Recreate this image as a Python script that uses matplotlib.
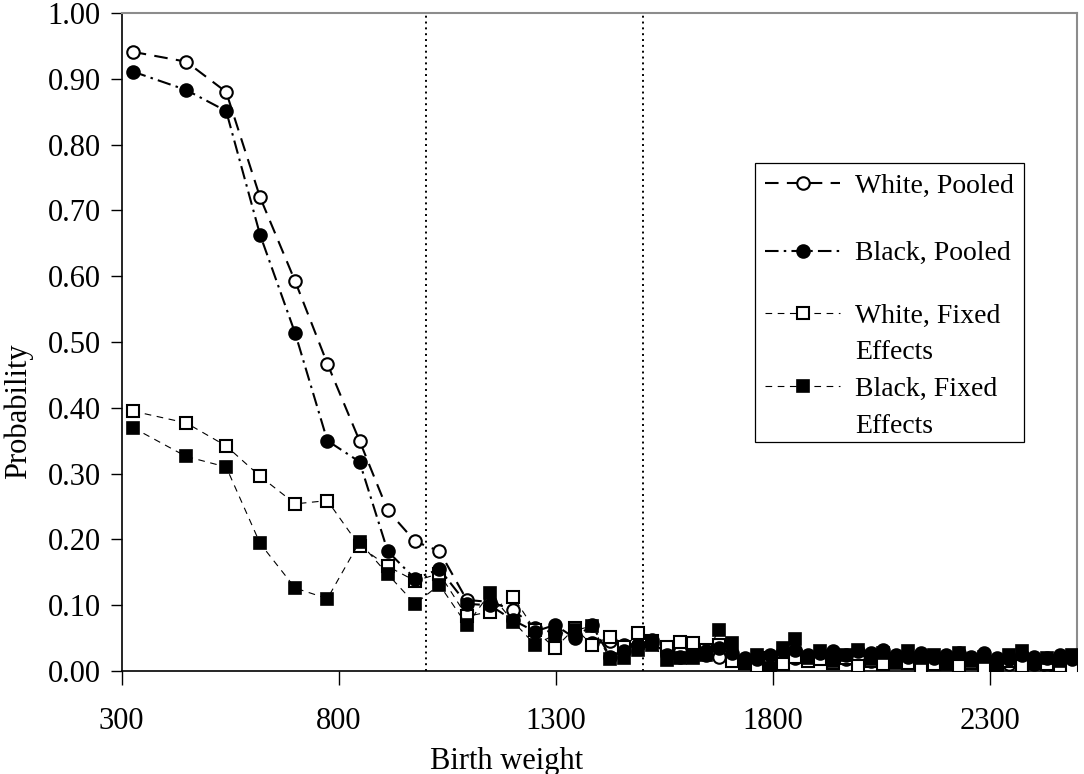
import matplotlib
matplotlib.use('Agg')
import matplotlib.pyplot as plt
from matplotlib.lines import Line2D
from matplotlib.patches import Rectangle

plt.rcParams['font.family'] = ['Liberation Serif', 'DejaVu Serif']

# birth weight (grams) at each point
birth_weight = [326, 449, 541, 619, 700, 774, 848, 913, 976, 1032,
                1095, 1148, 1202, 1252, 1298, 1344, 1383, 1425, 1457, 1490,
                1521, 1556, 1587, 1617, 1646, 1675, 1705, 1735, 1764, 1793,
                1822, 1851, 1880, 1909, 1938, 1967, 1996, 2025, 2054, 2083,
                2112, 2141, 2170, 2199, 2228, 2257, 2286, 2315, 2344, 2373,
                2402, 2431, 2460, 2489]

white_pooled = [0.941, 0.926, 0.880, 0.720, 0.592, 0.467, 0.350, 0.244, 0.197, 0.182,
                0.108, 0.105, 0.093, 0.065, 0.058, 0.055, 0.042, 0.045, 0.040, 0.040,
                0.042, 0.028, 0.030, 0.028, 0.025, 0.022, 0.020, 0.018, 0.015, 0.022,
                0.025, 0.020, 0.018, 0.022, 0.020, 0.018, 0.020, 0.015, 0.018, 0.016,
                0.014, 0.015, 0.012, 0.014, 0.012, 0.013, 0.015, 0.012, 0.010, 0.012,
                0.010, 0.008, 0.007, 0.006]

black_pooled = [0.911, 0.883, 0.851, 0.663, 0.513, 0.350, 0.318, 0.182, 0.140, 0.155,
                0.102, 0.100, 0.077, 0.060, 0.070, 0.050, 0.070, 0.022, 0.030, 0.040,
                0.047, 0.025, 0.022, 0.025, 0.030, 0.035, 0.028, 0.020, 0.018, 0.025,
                0.030, 0.032, 0.025, 0.028, 0.030, 0.025, 0.030, 0.028, 0.032, 0.025,
                0.022, 0.028, 0.020, 0.025, 0.028, 0.022, 0.027, 0.020, 0.018, 0.025,
                0.022, 0.020, 0.024, 0.018]

white_fixed = [0.395, 0.377, 0.342, 0.296, 0.254, 0.259, 0.190, 0.159, 0.137, 0.148,
               0.083, 0.090, 0.113, 0.062, 0.035, 0.065, 0.040, 0.052, 0.036, 0.057,
               0.045, 0.036, 0.044, 0.042, 0.032, 0.040, 0.015, 0.012, 0.008, 0.020,
               0.010, 0.022, 0.015, 0.018, 0.012, 0.020, 0.008, 0.015, 0.010, 0.018,
               0.012, 0.005, 0.010, 0.015, 0.008, 0.012, 0.005, 0.010, 0.015, 0.008,
               0.012, 0.010, 0.008, 0.005]

black_fixed = [0.370, 0.326, 0.310, 0.194, 0.126, 0.110, 0.196, 0.147, 0.102, 0.131,
               0.070, 0.118, 0.075, 0.040, 0.055, 0.062, 0.068, 0.018, 0.019, 0.032,
               0.040, 0.017, 0.020, 0.020, 0.025, 0.062, 0.043, 0.012, 0.025, 0.005,
               0.035, 0.048, 0.020, 0.030, 0.015, 0.025, 0.032, 0.018, 0.028, 0.012,
               0.030, 0.020, 0.025, 0.010, 0.028, 0.015, 0.022, 0.008, 0.025, 0.030,
               0.012, 0.020, 0.015, 0.025]

x_ticks = [300, 800, 1300, 1800, 2300]
y_ticks = [0.0, 0.1, 0.2, 0.3, 0.4, 0.5, 0.6, 0.7, 0.8, 0.9, 1.0]
cutoffs = [1000, 1500]

W, H = 1084, 774
fig = plt.figure(figsize=(W / 100, H / 100), dpi=100)
ax = fig.add_axes([121.5 / W, (H - 671) / H, (1077 - 121.5) / W, (671 - 13) / H])

for c in cutoffs:
    ax.axvline(c, color='black', lw=1.4, linestyle=(0, (1, 2)), zorder=1)

h_wp, = ax.plot(birth_weight, white_pooled, color='black', lw=1.5,
                linestyle=(0, (6.5, 4)), marker='o', ms=9, mfc='white',
                mec='black', mew=1.5, zorder=2)
h_wf, = ax.plot(birth_weight, white_fixed, color='black', lw=0.8,
                linestyle=(0, (6, 5)), marker='s', ms=9, mfc='white',
                mec='black', mew=1.5, zorder=3)
h_bp, = ax.plot(birth_weight, black_pooled, color='black', lw=1.5,
                linestyle=(0, (6.5, 2.5, 1.2, 2.5)), marker='o', ms=9,
                mfc='black', mec='black', mew=1.5, zorder=4)
h_bf, = ax.plot(birth_weight, black_fixed, color='black', lw=0.8,
                linestyle=(0, (6, 5)), marker='s', ms=9, mfc='black',
                mec='black', mew=1.2, zorder=5)

ax.set_xlim(300, 2500)
ax.set_ylim(0, 1.0)
ax.set_xticks(x_ticks)
ax.set_xticklabels([str(v) for v in x_ticks])
ax.set_yticks(y_ticks)
ax.set_yticklabels(['%.2f' % v for v in y_ticks])
ax.tick_params(axis='y', direction='out', length=8, width=1, labelsize=22, pad=7)
ax.tick_params(axis='x', direction='out', length=10, width=1, labelsize=22, pad=16)

for side in ['top', 'right']:
    ax.spines[side].set_color('#8c8c8c')
    ax.spines[side].set_linewidth(1.5)
for side in ['left', 'bottom']:
    ax.spines[side].set_color('black')
    ax.spines[side].set_linewidth(1.2)

fig.text(18 / W, 1 - 411 / H, 'Probability', rotation=90, ha='center',
         va='center', fontsize=22)
fig.text(507 / W, 1 - 761 / H, 'Birth weight', ha='center', va='center',
         fontsize=22)

# legend frame, with two frameless legends inside
frame = Rectangle((755 / W, 1 - 442 / H), (1024 - 755) / W, (442 - 163) / H,
                  transform=fig.transFigure, facecolor='white',
                  edgecolor='black', lw=0.9, zorder=5.5)
ax.add_artist(frame)

common = dict(loc='center left', bbox_transform=fig.transFigure, frameon=False,
              fontsize=20, handlelength=2.7, handletextpad=0.55, borderpad=0,
              borderaxespad=0, numpoints=1)
leg_a = ax.legend([h_wp, h_bp], ['White, Pooled', 'Black, Pooled'],
                  bbox_to_anchor=(765 / W, 1 - 220 / H), labelspacing=1.5,
                  **common)
leg_a.set_zorder(6)
ax.add_artist(leg_a)
blank = Line2D([], [], linestyle='none')
leg_b = ax.legend([h_wf, blank, h_bf, blank],
                  ['White, Fixed', 'Effects', 'Black, Fixed', 'Effects'],
                  bbox_to_anchor=(765 / W, 1 - 371 / H), labelspacing=0.4,
                  **common)
leg_b.set_zorder(6)

fig.savefig('out.png', dpi=100)
